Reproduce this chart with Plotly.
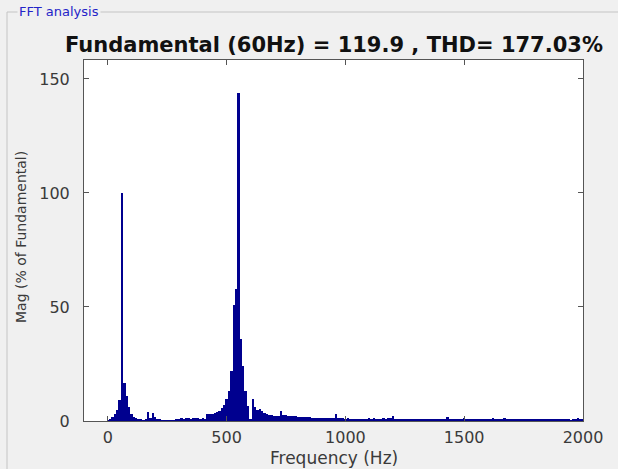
import plotly.graph_objects as go

# ---- data -------------------------------------------------------------
bin_hz = 10
mag_pct = [
    0.4, 1.0, 1.8, 3.0, 5.0, 9.0, 100.0, 16.5, 11.0, 6.2,      # 0-90
    3.0, 1.6, 1.1, 0.8, 0.5, 0.4, 0.6, 3.8, 1.3, 3.3,          # 100-190
    1.6, 0.7, 0.6, 0.4, 0.4, 0.3, 0.3, 0.2, 0.3, 0.8,          # 200-290
    1.0, 1.3, 1.0, 1.1, 1.2, 1.0, 1.4, 1.1, 1.2, 0.7,          # 300-390
    1.5, 0.8, 2.9, 3.0, 3.1, 3.4, 3.8, 4.5, 5.5, 7.0,          # 400-490
    9.5, 13.0, 22.0, 51.0, 58.0, 144.0, 36.0, 24.0, 13.0, 6.5, # 500-590
    1.0, 9.5, 6.2, 5.0, 5.2, 4.2, 3.6, 3.0, 2.8, 2.5,          # 600-690
    2.4, 2.3, 2.2, 4.4, 2.5, 2.6, 2.3, 2.4, 2.2, 2.0,          # 700-790
    1.9, 1.8, 1.9, 1.7, 1.8, 1.6, 1.5, 1.3, 1.4, 1.5,          # 800-890
    1.4, 1.3, 1.5, 1.4, 1.3, 1.2, 2.9, 1.5, 1.4, 1.3,          # 900-990
    1.0, 1.1, 0.9, 1.0, 1.0, 0.8, 1.0, 0.9, 1.0, 0.6,          # 1000-1090
    1.1, 1.0, 1.2, 1.0, 0.9, 1.0, 1.1, 0.9, 1.2, 1.1,          # 1100-1190
    2.0, 0.7, 0.8, 0.6, 0.7, 0.7, 0.6, 0.7, 0.6, 0.7,          # 1200-1290
    1.0, 0.9, 1.0, 0.9, 0.7, 0.6, 0.7, 0.8, 0.7, 0.6,          # 1300-1390
    0.7, 0.6, 0.7, 1.6, 0.8, 0.7, 0.6, 0.8, 0.7, 0.6,          # 1400-1490
    1.2, 0.7, 0.6, 0.7, 0.8, 0.6, 0.7, 0.6, 0.8, 0.7,          # 1500-1590
    0.7, 1.0, 1.5, 0.7, 0.6, 0.7, 0.6, 1.2, 0.6, 0.5,          # 1600-1690
    0.6, 0.5, 0.6, 0.7, 0.5, 0.6, 0.9, 0.6, 0.5, 0.6,          # 1700-1790
    0.5, 0.6, 0.9, 0.6, 0.5, 0.6, 0.5, 0.7, 0.5, 0.6,          # 1800-1890
    0.5, 0.6, 0.5, 0.6, 0.5, 0.4, 0.5, 0.6, 1.2, 0.5,          # 1900-1990
    0.5,                                                         # 2000
]
freq_hz = [i * bin_hz for i in range(len(mag_pct))]

x_ticks = [0, 500, 1000, 1500, 2000]
y_ticks = [0, 50, 100, 150]

title_text = "Fundamental (60Hz) = 119.9 , THD= 177.03%"
panel_text = "FFT analysis"
x_label = "Frequency (Hz)"
y_label = "Mag (% of Fundamental)"

# ---- geometry helpers (pixel -> paper) --------------------------------
W, H = 618, 469
L, R, T, B = 84, 583, 60, 421
def px(xp):
    return (xp - L) / (R - L)
def py(yp):
    return (B - yp) / (B - T)

fig = go.Figure()
fig.add_trace(go.Bar(
    x=freq_hz, y=mag_pct,
    marker=dict(color="#00008F", line=dict(width=0)),
    width=bin_hz,
    hoverinfo="x+y",
))

axis_common = dict(
    showline=True, linecolor="#555555", linewidth=1, mirror="ticks",
    ticks="inside", ticklen=5, tickcolor="#555555", tickwidth=1,
    showgrid=False, zeroline=False,
    tickfont=dict(family="DejaVu Sans", size=16, color="#3a3a3a"),
)

fig.update_layout(
    width=W, height=H,
    margin=dict(l=L, r=W - R, t=T, b=H - B, pad=0),
    paper_bgcolor="#f0f0f0",
    plot_bgcolor="#ffffff",
    bargap=0,
    showlegend=False,
    xaxis=dict(range=[-100, 2000], tickvals=x_ticks, ticklabelstandoff=2, **axis_common),
    yaxis=dict(range=[0, 158.3], tickvals=y_ticks, ticklabelstandoff=10, **axis_common),
    shapes=[
        dict(type="line", xref="paper", yref="paper",
             x0=px(7), x1=px(7), y0=py(12), y1=py(470),
             line=dict(color="#c4c4c4", width=1)),
        dict(type="line", xref="paper", yref="paper",
             x0=px(7), x1=px(619), y0=py(12), y1=py(12),
             line=dict(color="#c4c4c4", width=1)),
    ],
    annotations=[
        dict(text=panel_text, xref="paper", yref="paper",
             x=px(17), y=py(12), xanchor="left", yanchor="middle",
             showarrow=False, bgcolor="#f0f0f0", borderpad=1,
             font=dict(family="DejaVu Sans", size=13, color="#2424c8")),
        dict(text="<b>" + title_text + "</b>", xref="paper", yref="paper",
             x=px(334), y=py(45), xanchor="center", yanchor="middle",
             showarrow=False,
             font=dict(family="DejaVu Sans", size=21, color="#111111")),
        dict(text=x_label, xref="paper", yref="paper",
             x=px(334), y=py(469), xanchor="center", yanchor="bottom",
             showarrow=False, borderpad=0,
             font=dict(family="DejaVu Sans", size=17, color="#3a3a3a")),
        dict(text=y_label, xref="paper", yref="paper",
             x=px(21), y=py(237), xanchor="center", yanchor="middle",
             textangle=-90, showarrow=False,
             font=dict(family="DejaVu Sans", size=14, color="#3a3a3a")),
    ],
)

fig.write_html("out.html")
